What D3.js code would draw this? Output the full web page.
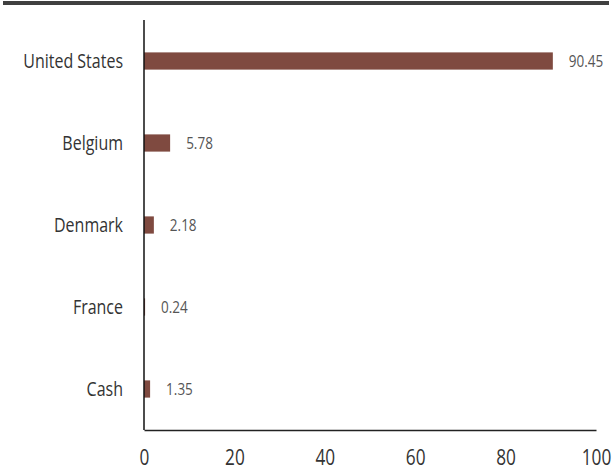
<!DOCTYPE html>
<html>
<head>
<meta charset="utf-8">
<script src="https://cdn.jsdelivr.net/npm/d3@7"></script>
<style>
  body { margin: 0; background: #fff; }
  svg text { font-family: "Open Sans", sans-serif; }
</style>
</head>
<body>
<div id="chart-area"></div>
<script>
// chart size
var width = 612,
	height = 470;

// data
var countries = ["United States", "Belgium", "Denmark", "France", "Cash"];
var weights = [90.45, 5.78, 2.18, 0.24, 1.35];
var xTicks = [0, 20, 40, 60, 80, 100];

var data = countries.map(function(c, i) {
	return { name: c, value: weights[i] };
});

// fake a condensed face by squeezing text horizontally
var squeeze = 0.82;

var svg = d3.select("#chart-area")
	.append("svg")
	.attr("width", width)
	.attr("height", height);

// top rule
svg.append("rect")
	.attr("x", 3)
	.attr("y", 1)
	.attr("width", width - 6)
	.attr("height", 4)
	.attr("fill", "#404040");

var x = d3.scaleLinear()
	.domain([0, 100])
	.range([144, 596]);

var y = d3.scaleBand()
	.domain(countries)
	.range([20, 430])
	.paddingInner(0.79)
	.paddingOuter(0.395);

// bars
svg.selectAll("rect.bar")
	.data(data)
	.enter()
	.append("rect")
	.attr("class", "bar")
	.attr("x", x(0))
	.attr("y", function(d) { return y(d.name); })
	.attr("width", function(d) { return x(d.value) - x(0); })
	.attr("height", y.bandwidth())
	.attr("fill", "#7f4a40");

// value labels
svg.selectAll("text.value")
	.data(data)
	.enter()
	.append("text")
	.attr("class", "value")
	.attr("transform", function(d) {
		return "translate(" + (x(d.value) + 16) + "," + (y(d.name) + y.bandwidth() / 2) + ") scale(" + squeeze + ",1)";
	})
	.attr("dy", "0.36em")
	.attr("font-size", 16.5)
	.attr("fill", "#555")
	.text(function(d) { return d.value.toFixed(2); });

// category labels
svg.selectAll("text.cat")
	.data(data)
	.enter()
	.append("text")
	.attr("class", "cat")
	.attr("transform", function(d) {
		return "translate(123," + (y(d.name) + y.bandwidth() / 2) + ") scale(" + squeeze + ",1)";
	})
	.attr("dy", "0.36em")
	.attr("text-anchor", "end")
	.attr("font-size", 19.5)
	.attr("fill", "#333")
	.text(function(d) { return d.name; });

// axes
var xAxis = d3.axisBottom(x).tickValues(xTicks).tickSize(0).tickPadding(20);
var gx = svg.append("g")
	.attr("transform", "translate(0,430)")
	.call(xAxis);
gx.select(".domain").attr("stroke", "#222").attr("stroke-width", 1.5);
gx.selectAll(".tick text")
	.attr("font-size", 21)
	.attr("fill", "#333")
	.attr("transform", "scale(" + squeeze + ",1)")
	.style("font-family", "'Open Sans', sans-serif");

svg.append("line")
	.attr("x1", x(0))
	.attr("x2", x(0))
	.attr("y1", 20)
	.attr("y2", 430)
	.attr("stroke", "#111")
	.attr("stroke-width", 1.5);
</script>
</body>
</html>
